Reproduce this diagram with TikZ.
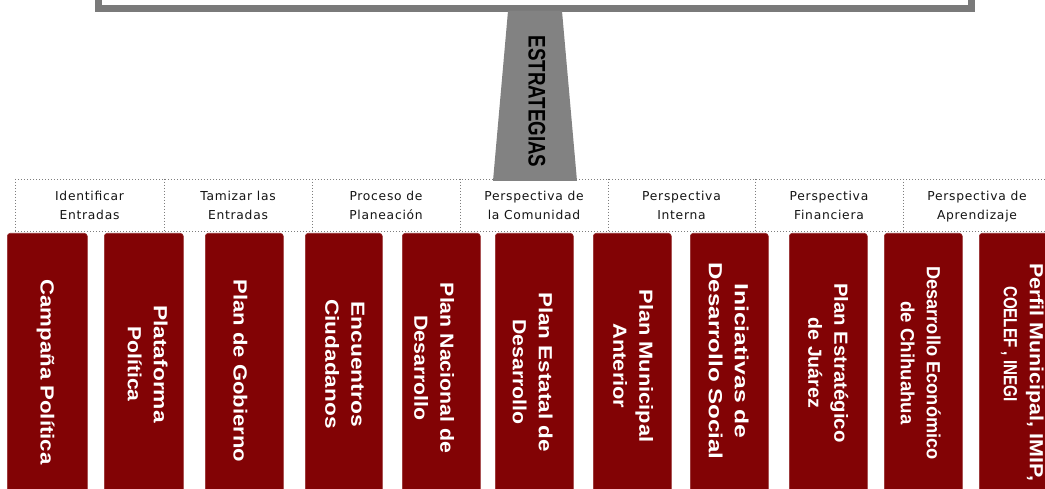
\documentclass[tikz,border=0pt]{standalone}
\usepackage{fontspec}
\setmainfont{Liberation Sans}
\newfontfamily\labfont[LetterSpace=6]{DejaVu Sans}
\usepackage{graphicx}
\definecolor{boxred}{RGB}{130,3,5}
\definecolor{framegray}{RGB}{122,122,122}
\definecolor{stemgray}{RGB}{130,130,130}
\definecolor{dotgray}{RGB}{125,125,125}
\newcommand\sx[2]{\scalebox{#1}[1]{#2}}
\newcommand\twol[2]{\begin{tabular}{@{}c@{}}#1\\#2\end{tabular}}
\begin{document}
\begin{tikzpicture}[x=1pt,y=-1pt,
  redbox/.style={fill=boxred, draw=boxred!85!white, line width=0.6pt, rounded corners=3pt,
    anchor=north west, minimum height=300pt, inner sep=0pt},
  redlabel/.style={rotate=-90, text=white, font=\fontsize{19}{26}\selectfont\bfseries, inner sep=0pt},
  catlabel/.style={font=\labfont\fontsize{12.3}{19}\selectfont, text=black!92, align=center,
    inner sep=0pt, anchor=north},
  dotline/.style={draw=dotgray, line width=0.9pt, dash pattern=on 1pt off 2pt},
]
\useasboundingbox (0,0) rectangle (1045,489);
\clip (0,0) rectangle (1045,489);
\fill[white] (0,0) rectangle (1045,489);

% top frame
\draw[framegray, line width=7pt] (98.5,-30) rectangle (971.5,8.5);

% dotted category grid
\draw[dotline] (15,179) -- (1045,179);
\draw[dotline] (15,231) -- (1045,231);
\foreach \x in {15,164,312,460,608,755,903}
  \draw[dotline] (\x,179) -- (\x,231);

% stem
\fill[stemgray] (508,11) -- (562,11) -- (577,181) -- (493,181) -- cycle;
\node[rotate=-90, font=\fontsize{24}{24}\selectfont\bfseries, inner sep=0pt] (strat) at (537,101.5)
  {\sx{0.78}{ESTRATEGIAS}};

% category labels
\node[catlabel] (c1) at (89.5,190.5) {Identificar\\Entradas};
\node[catlabel] (c2) at (238,190.5) {Tamizar las\\Entradas};
\node[catlabel] (c3) at (386,190.5) {Proceso de\\Planeación};
\node[catlabel] (c4) at (534,190.5) {Perspectiva de\\la Comunidad};
\node[catlabel] (c5) at (681.5,190.5) {Perspectiva\\Interna};
\node[catlabel] (c6) at (829,190.5) {Perspectiva\\Financiera};
\node[catlabel] (c7) at (977,190.5) {Perspectiva de\\Aprendizaje};

% red boxes
\node[redbox, minimum width=80pt] (r1) at (7,233) {};
\node[redbox, minimum width=79pt] (r2) at (104,233) {};
\node[redbox, minimum width=78pt] (r3) at (205,233) {};
\node[redbox, minimum width=77pt] (r4) at (305,233) {};
\node[redbox, minimum width=78pt] (r5) at (402,233) {};
\node[redbox, minimum width=78pt] (r6) at (495,233) {};
\node[redbox, minimum width=78pt] (r7) at (593,233) {};
\node[redbox, minimum width=78pt] (r8) at (690,233) {};
\node[redbox, minimum width=78pt] (r9) at (789,233) {};
\node[redbox, minimum width=78pt] (r10) at (884,233) {};
\node[redbox, minimum width=78pt] (r11) at (979,233) {};

% red box texts
\node[redlabel] (t1) at (45.5,372) {\sx{1.17}{Campaña Política}};
\node[redlabel] (t2) at (146,364) {\twol{\sx{1.2}{Plataforma}}{\sx{1.11}{Política}}};
\node[redlabel] (t3) at (240.5,371) {\sx{1.16}{Plan de Gobierno}};
\node[redlabel] (t4) at (343.5,364) {\twol{\sx{1.2}{Encuentros}}{\sx{1.19}{Ciudadanos}}};
\node[redlabel] (t5) at (432.5,368) {\twol{\sx{1.12}{Plan Nacional de}}{\sx{1.12}{Desarrollo}}};
\node[redlabel] (t6) at (531,372) {\twol{\sx{1.18}{Plan Estatal de}}{\sx{1.12}{Desarrollo}}};
\node[redlabel] (t7) at (631.5,366) {\twol{\sx{1.15}{Plan Municipal}}{\sx{1.15}{Anterior}}};
\node[redlabel] (t8) at (727,361) {\twol{\sx{1.3}{Iniciativas de}}{\sx{1.27}{Desarrollo Social}}};
\node[redlabel] (t9) at (826.5,363) {\twol{\sx{1.07}{Plan Estratégico}}{\sx{1.03}{de Juárez}}};
\node[redlabel] (t10) at (919,363) {\twol{\sx{0.96}{Desarrollo Económico}}{\sx{0.98}{de Chihuahua}}};
\node[redlabel] (t11) at (1022,372) {\begin{tabular}{@{}l@{}}\sx{1.13}{Perfil Municipal, IMIP,}\\\hspace*{23pt}\sx{0.8}{COELEF , INEGI}\end{tabular}};
\end{tikzpicture}
\end{document}
